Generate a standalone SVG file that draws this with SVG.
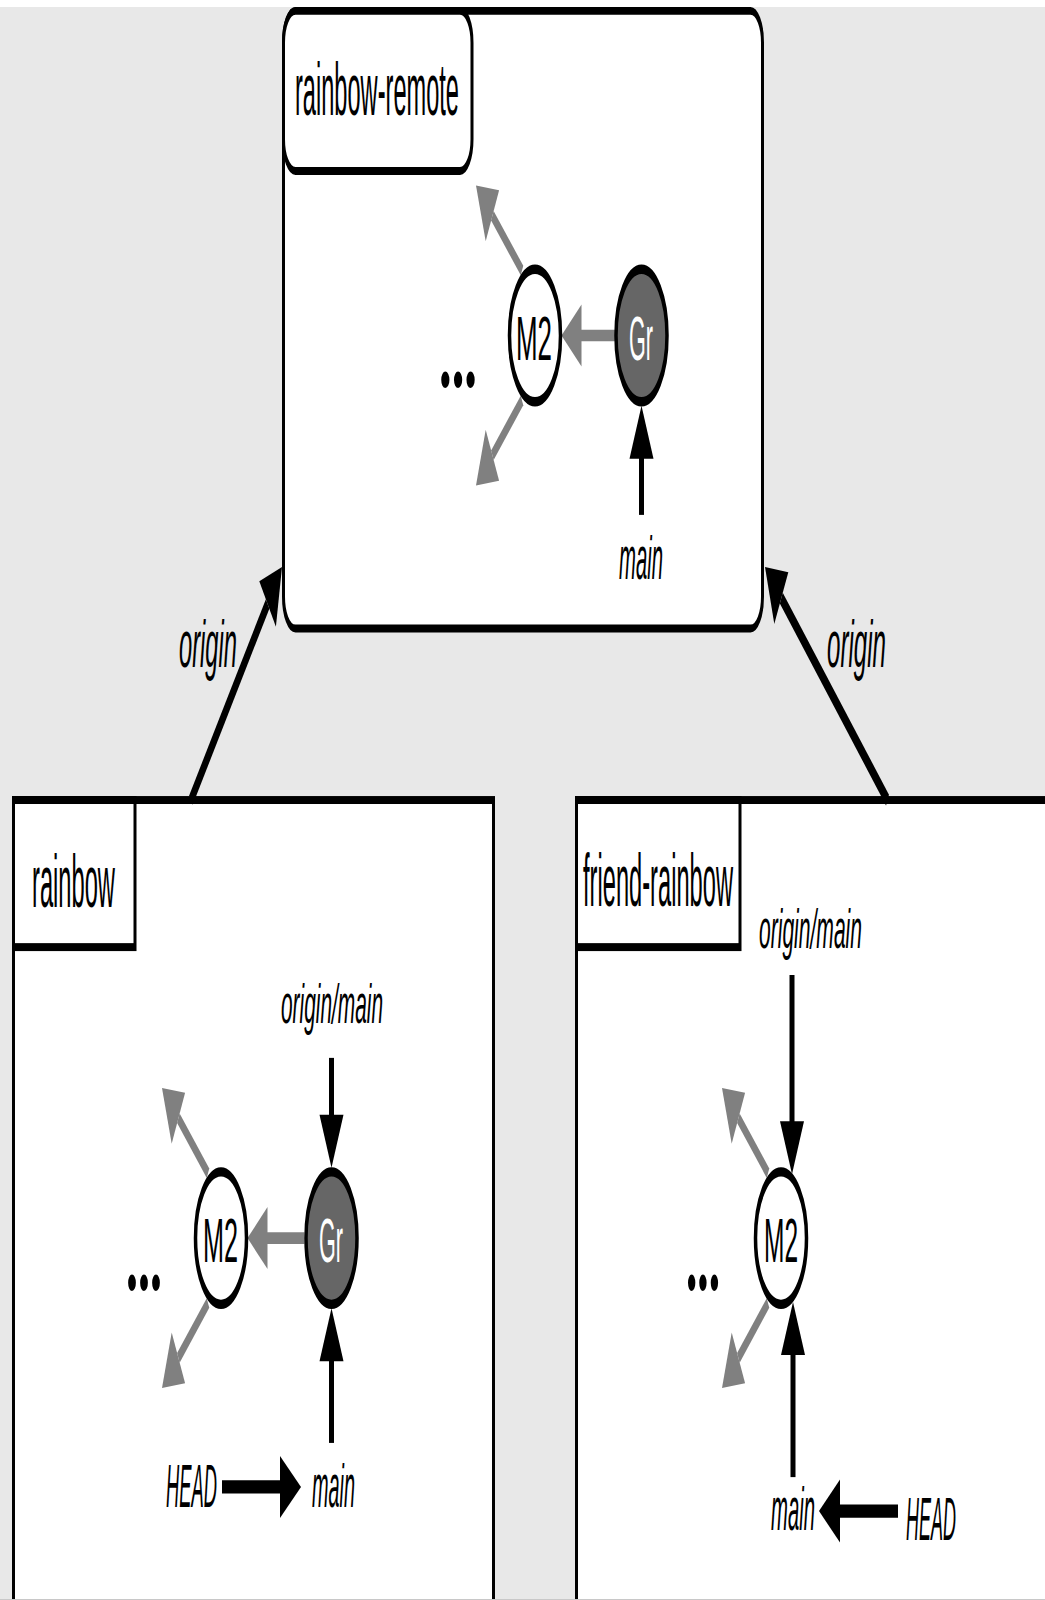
<svg xmlns="http://www.w3.org/2000/svg" width="1045" height="1600" viewBox="0 0 1045 1600">
<style>
.box{fill:#fff;stroke:#000;stroke-width:3}
.t{font-family:"Liberation Sans",Arial,sans-serif;fill:#000}
.name{font-size:28px}
.it{font-style:italic}
.ref{font-size:23px}
.org{font-size:25px}
.om{font-size:21px}
.cm{font-size:24px}
.dots{font-family:"Liberation Serif","Times New Roman",serif;font-size:52px;font-weight:bold;fill:#000}
.commit{stroke:#000;stroke-width:3.5}
.m2{fill:#fff}
.gr{fill:#666}
.gline{stroke:#808080;stroke-width:4.4;fill:none}
.ghead{fill:#808080}
.bline{stroke:#000;stroke-width:5;fill:none}
.bhead{fill:#000}
</style>
<rect x="0" y="0" width="1045" height="1600" fill="#e8e8e8"/>
<rect x="0" y="0" width="1045" height="7" fill="#fff"/>
<g transform="scale(1,2.65)">
  <g id="repo-rainbow-remote">
    <rect class="box" x="283.5" y="4.1" width="479" height="233.1" rx="12" ry="12"/>
    <rect class="box" x="283.5" y="4.1" width="188.5" height="60.4" rx="12" ry="12"/>
    <text class="t name" x="295" y="43.4" textLength="164" lengthAdjust="spacingAndGlyphs">rainbow-remote</text>
  </g>
  <g id="repo-rainbow">
    <rect class="box" x="13.5" y="301.9" width="480" height="340"/>
    <rect class="box" x="13.5" y="301.9" width="121.5" height="55.5"/>
    <text class="t name" x="32" y="342.3" textLength="83" lengthAdjust="spacingAndGlyphs">rainbow</text>
  </g>
  <g id="repo-friend-rainbow">
    <rect class="box" x="576.5" y="301.9" width="500" height="340"/>
    <rect class="box" x="576.5" y="301.9" width="163.5" height="55.5"/>
    <text class="t name" x="583" y="342" textLength="150" lengthAdjust="spacingAndGlyphs">friend-rainbow</text>
  </g>

  <g id="connectors">
    <line class="bline" x1="191" y1="301.9" x2="267.6" y2="227.9"/>
    <polygon class="bhead" points="282,214 275.9,236.5 259.3,219.3"/>
    <line class="bline" x1="887.5" y1="301.9" x2="781.3" y2="225.7"/>
    <polygon class="bhead" points="765,214 788.3,215.9 774.3,235.5"/>

    <line class="gline" x1="615" y1="126.6" x2="581" y2="126.6"/>
    <polygon class="ghead" points="561.5,126.6 581.5,114.9 581.5,138.3"/>
    <line class="gline" x1="522" y1="102.1" x2="492.4" y2="81.4"/>
    <polygon class="ghead" points="476,70 499.1,71.8 485.7,91"/>
    <line class="gline" x1="522" y1="151.1" x2="492.4" y2="171.8"/>
    <polygon class="ghead" points="476,183.2 499.1,181.4 485.7,162.2"/>
    <line class="bline" x1="641.5" y1="194.3" x2="641.5" y2="172.5"/>
    <polygon class="bhead" points="641.5,153.1 629.5,173.1 653.5,173.1"/>

    <line class="gline" x1="304.5" y1="467.2" x2="267" y2="467.2"/>
    <polygon class="ghead" points="247.5,467.2 267.5,455.5 267.5,478.9"/>
    <line class="gline" x1="208" y1="442.7" x2="178.4" y2="422"/>
    <polygon class="ghead" points="162,410.6 185.1,412.4 171.7,431.6"/>
    <line class="gline" x1="208" y1="491.7" x2="178.4" y2="512.4"/>
    <polygon class="ghead" points="162,523.8 185.1,522 171.7,502.8"/>
    <line class="bline" x1="331.5" y1="399.2" x2="331.5" y2="421.3"/>
    <polygon class="bhead" points="331.5,440.7 319.5,420.7 343.5,420.7"/>
    <line class="bline" x1="331.5" y1="544.5" x2="331.5" y2="513.1"/>
    <polygon class="bhead" points="331.5,493.7 319.5,513.7 343.5,513.7"/>
    <line class="bline" x1="222" y1="561.1" x2="281" y2="561.1"/>
    <polygon class="bhead" points="301,561.1 280,549.4 280,572.8"/>

    <line class="gline" x1="768" y1="442.7" x2="738.4" y2="422"/>
    <polygon class="ghead" points="722,410.6 745.1,412.4 731.7,431.6"/>
    <line class="gline" x1="768" y1="491.7" x2="738.4" y2="512.4"/>
    <polygon class="ghead" points="722,523.8 745.1,522 731.7,502.8"/>
    <line class="bline" x1="792" y1="367.9" x2="792" y2="423.7"/>
    <polygon class="bhead" points="792,443.1 780,423.1 804,423.1"/>
    <line class="bline" x1="793" y1="557.4" x2="793" y2="510.7"/>
    <polygon class="bhead" points="793,491.3 781,511.3 805,511.3"/>
    <line class="bline" x1="898" y1="570.2" x2="839" y2="570.2"/>
    <polygon class="bhead" points="819,570.2 840,558.3 840,582.1"/>

    <text class="t org it" x="179" y="251.7" textLength="58" lengthAdjust="spacingAndGlyphs">origin</text>
    <text class="t org it" x="827" y="251.7" textLength="59" lengthAdjust="spacingAndGlyphs">origin</text>
  </g>

  <g id="remote-M2">
    <ellipse class="commit m2" cx="535" cy="126.6" rx="25.5" ry="25"/>
    <text class="t cm" x="534" y="135.8" text-anchor="middle" textLength="36" lengthAdjust="spacingAndGlyphs">M2</text>
  </g>
  <g id="remote-Gr">
    <ellipse class="commit gr" cx="641.5" cy="126.6" rx="25.5" ry="25"/>
    <text class="t cm" x="641" y="135.8" text-anchor="middle" textLength="24" lengthAdjust="spacingAndGlyphs" style="fill:#fff">Gr</text>
  </g>
  <g id="remote-dots">
    <text class="dots" transform="translate(458,143.4) scale(1,0.73)" x="0" y="3.4" text-anchor="middle" textLength="38" lengthAdjust="spacingAndGlyphs">...</text>
  </g>
  <g id="remote-main">
    <text class="t ref it" x="641" y="218.5" text-anchor="middle" textLength="44" lengthAdjust="spacingAndGlyphs">main</text>
  </g>

  <g id="rainbow-M2">
    <ellipse class="commit m2" cx="221" cy="467.2" rx="25.5" ry="25"/>
    <text class="t cm" x="220.5" y="476.4" text-anchor="middle" textLength="35" lengthAdjust="spacingAndGlyphs">M2</text>
  </g>
  <g id="rainbow-Gr">
    <ellipse class="commit gr" cx="331.5" cy="467.2" rx="25.5" ry="25"/>
    <text class="t cm" x="331" y="476.4" text-anchor="middle" textLength="24" lengthAdjust="spacingAndGlyphs" style="fill:#fff">Gr</text>
  </g>
  <g id="rainbow-dots">
    <text class="dots" transform="translate(144,484.2) scale(1,0.73)" x="0" y="3.4" text-anchor="middle" textLength="36" lengthAdjust="spacingAndGlyphs">...</text>
  </g>
  <g id="rainbow-origin-main">
    <text class="t om it" x="281" y="386" textLength="102" lengthAdjust="spacingAndGlyphs">origin/main</text>
  </g>
  <g id="rainbow-HEAD">
    <text class="t ref it" x="166" y="568.7" textLength="51" lengthAdjust="spacingAndGlyphs">HEAD</text>
  </g>
  <g id="rainbow-main">
    <text class="t ref it" x="312" y="568.7" textLength="43" lengthAdjust="spacingAndGlyphs">main</text>
  </g>

  <g id="friend-M2">
    <ellipse class="commit m2" cx="781" cy="467.2" rx="25.5" ry="25"/>
    <text class="t cm" x="781" y="476.4" text-anchor="middle" textLength="34" lengthAdjust="spacingAndGlyphs">M2</text>
  </g>
  <g id="friend-dots">
    <text class="dots" transform="translate(703,484.2) scale(1,0.73)" x="0" y="3.4" text-anchor="middle" textLength="34" lengthAdjust="spacingAndGlyphs">...</text>
  </g>
  <g id="friend-origin-main">
    <text class="t om it" x="759" y="357.7" textLength="103" lengthAdjust="spacingAndGlyphs">origin/main</text>
  </g>
  <g id="friend-main">
    <text class="t ref it" x="771" y="577.4" textLength="44" lengthAdjust="spacingAndGlyphs">main</text>
  </g>
  <g id="friend-HEAD">
    <text class="t ref it" x="906" y="581.1" textLength="50" lengthAdjust="spacingAndGlyphs">HEAD</text>
  </g>
</g>
<rect x="0" y="1599" width="1045" height="1" fill="#c8c8c8"/>
</svg>
